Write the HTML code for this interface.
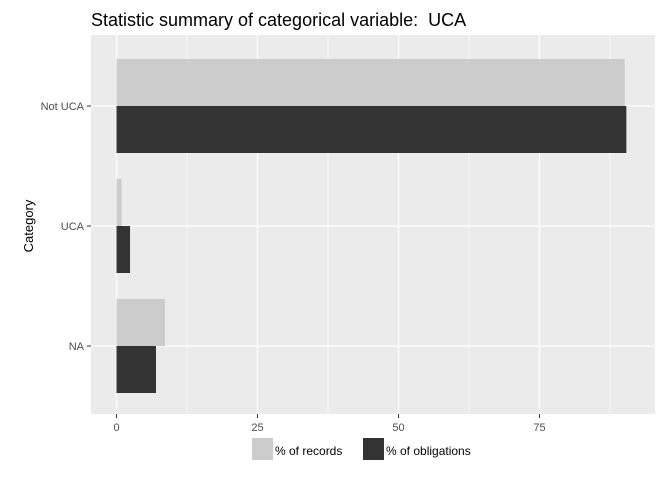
<!DOCTYPE html>
<html><head><meta charset="utf-8"><style>
body{margin:0;background:#fff;font-family:"Liberation Sans",sans-serif}
</style></head><body>
<svg width="672" height="480">
<text x="91" y="26" font-size="18" fill="#000" style="white-space:pre">Statistic summary of categorical variable:  UCA</text>
<rect x="91" y="35" width="564" height="379" fill="#ebebeb"/>
<g id="grid"></g><g id="bars"></g><g id="axes"></g>
<text transform="translate(33,226) rotate(-90)" text-anchor="middle" font-size="13">Category</text>
<rect x="252" y="438" width="21" height="22" fill="#cccccc"/>
<text x="275" y="455" font-size="12">% of records</text>
<rect x="363" y="438" width="21" height="22" fill="#333333"/>
<text x="386" y="455" font-size="12">% of obligations</text>
</svg>
<script>
const categories=["Not UCA","UCA","NA"];
const records=[90.1,0.9,8.6];
const obligations=[90.4,2.4,7.0];
const xTicks=[0,25,50,75];
const NS="http://www.w3.org/2000/svg";
const x=v=>116.5+v*141/25;
const yc=i=>106+i*120;
function mk(t,a,p){const e=document.createElementNS(NS,t);for(const k in a)e.setAttribute(k,a[k]);p.appendChild(e);return e;}
const grid=document.getElementById('grid'),bars=document.getElementById('bars'),axes=document.getElementById('axes');
for(let i=0;i<xTicks.length-1;i++){const m=(xTicks[i]+xTicks[i+1])/2;
const g=mk('line',{x1:x(m),x2:x(m),y1:35,y2:414,stroke:'#fff','stroke-width':0.6},grid);
}
{const m=87.5;const g=mk('line',{x1:x(m),x2:x(m),y1:35,y2:414,stroke:'#fff','stroke-width':0.6},grid);
}
xTicks.forEach(t=>{const g=mk('line',{x1:x(t),x2:x(t),y1:35,y2:414,stroke:'#fff','stroke-width':1.2},grid);

const tk=mk('line',{x1:x(t),x2:x(t),y1:414,y2:418,stroke:'#333'},axes);

const l=mk('text',{x:x(t),y:431,'text-anchor':'middle','font-size':11,fill:'#4d4d4d'},axes);l.textContent=t;
});
categories.forEach((c,i)=>{const y=yc(i);
const g=mk('line',{x1:91,x2:655,y1:y,y2:y,stroke:'#fff','stroke-width':1.2},grid);

const r=mk('rect',{x:x(0),y:y-47,width:x(records[i])-x(0),height:47,fill:'#cccccc'},bars);

const o=mk('rect',{x:x(0),y:y,width:x(obligations[i])-x(0),height:47,fill:'#333333'},bars);

const tk=mk('line',{x1:87,x2:91,y1:y,y2:y,stroke:'#333'},axes);

const l=mk('text',{x:84,y:y+4,'text-anchor':'end','font-size':11,fill:'#4d4d4d'},axes);l.textContent=c;
});
</script>
</body></html>
